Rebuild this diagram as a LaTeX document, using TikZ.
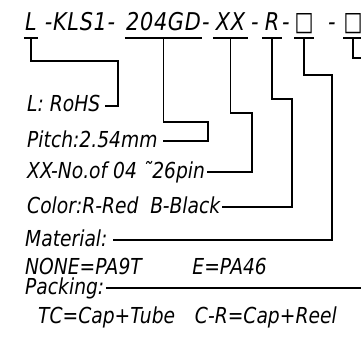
\documentclass[tikz,border=0pt]{standalone}
\usepackage{fontspec}
\usepackage{graphicx}
\setmainfont{DejaVu Sans}
\newfontfamily\isoface{DejaVu Sans}[FakeStretch=0.85]
\newfontfamily\isotitleface{DejaVu Sans}[FakeStretch=0.85,LetterSpace=3]
\newcommand\isofont{\isoface\fontsize{22}{26}\selectfont\itshape}
\newcommand\isotitlefont{\isotitleface\fontsize{24.5}{28}\selectfont\itshape}
\newcommand\optbox{{\upshape\resizebox{19pt}{17pt}{□}}}
\begin{document}
\begin{tikzpicture}[x=1pt,y=-1pt,
  part/.style={anchor=base,inner sep=0pt,font=\isotitlefont},
  lbl/.style={anchor=west,inner xsep=2pt,inner ysep=0pt,text height=15pt,text depth=3pt,font=\isofont},
  wire/.style={draw=black,line width=1.6pt}]
\useasboundingbox (0,0) rectangle (361,350);
\clip (0,0) rectangle (361,350);
% part number
\node[part,minimum width=14pt] (tL) at (31,31) {L};
\node[part] (tKLS) at (80,31) {-KLS1-};
\node[part,minimum width=77pt] (tPN) at (163.5,31) {204GD};
\node[part] (tD1) at (206,31) {-};
\node[part,minimum width=35pt] (tXX) at (230.5,31) {XX};
\node[part] (tD2) at (255,31) {-};
\node[part,minimum width=20pt] (tR) at (272,31) {R};
\node[part] (tD3) at (286,31) {-};
\node[part,minimum width=18pt] (tB1) at (304,31) {\optbox};
\node[part] (tD4) at (332,31) {-};
\node[part,minimum width=18pt] (tB2) at (353,31) {\optbox};
% legend
\node[lbl] (lRoHS) at (25,106) {L: RoHS};
\node[lbl] (lPitch) at (25,141) {Pitch:2.54mm};
\node[lbl] (lPins) at (25,172) {XX-No.of 04 ˜26pin};
\node[lbl] (lColor) at (25,207) {Color:R-Red\ \ B-Black};
\node[lbl] (lMat) at (23,240) {Material:};
\node[lbl] (lMatOpt) at (23,268) {NONE=PA9T\hspace{2.3em}E=PA46};
\node[lbl] (lPack) at (23,288) {Packing:};
\node[lbl] (lPackOpt) at (36,317) {TC=Cap+Tube\hspace{0.9em}C-R=Cap+Reel};
% underlines
\foreach \p in {tL,tPN,tXX,tR,tB1,tB2}
  \draw[wire] ([yshift=-7pt]\p.base west) -- ([yshift=-7pt]\p.base east);
% leaders
\draw[wire] ([yshift=-7pt]tL.base) |- (118,61) |- ([xshift=3pt]lRoHS.east);
\draw[wire] ([yshift=-7pt]tPN.base) |- (208,122) |- ([xshift=3pt]lPitch.east);
\draw[wire] ([yshift=-7pt]tXX.base) |- (252,113) |- (lPins.east);
\draw[wire] ([yshift=-7pt]tR.base) |- (292,99) |- (lColor.east);
\draw[wire] ([yshift=-7pt]tB1.base) |- (332,75) |- ([xshift=3pt]lMat.east);
\draw[wire] ([yshift=-7pt]tB2.base) |- (372,58) |- (lPack.east);
\end{tikzpicture}
\end{document}
